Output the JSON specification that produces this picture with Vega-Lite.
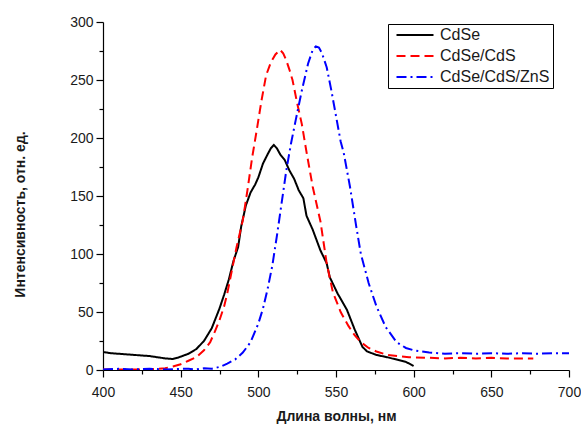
{
  "$schema": "https://vega.github.io/schema/vega-lite/v6.json",
  "width": 466,
  "height": 348,
  "autosize": {"type": "none"},
  "padding": {"left": 103, "top": 22, "right": 12, "bottom": 54},
  "background": "white",
  "data": {"values": [
    {"s":"CdSe","wl":400,"I":15.5},{"s":"CdSe","wl":405,"I":14.5},{"s":"CdSe","wl":410,"I":14},{"s":"CdSe","wl":415,"I":13.5},{"s":"CdSe","wl":420,"I":13},{"s":"CdSe","wl":425,"I":12.5},{"s":"CdSe","wl":430,"I":12},{"s":"CdSe","wl":435,"I":11},{"s":"CdSe","wl":440,"I":10},{"s":"CdSe","wl":445,"I":9.5},{"s":"CdSe","wl":448,"I":10.5},{"s":"CdSe","wl":450,"I":11.5},{"s":"CdSe","wl":455,"I":14},{"s":"CdSe","wl":460,"I":18},{"s":"CdSe","wl":465,"I":25},{"s":"CdSe","wl":470,"I":36},{"s":"CdSe","wl":475,"I":53},{"s":"CdSe","wl":478,"I":65},{"s":"CdSe","wl":481,"I":78},{"s":"CdSe","wl":484,"I":94},{"s":"CdSe","wl":487,"I":106},{"s":"CdSe","wl":489,"I":124},{"s":"CdSe","wl":492,"I":142},{"s":"CdSe","wl":495,"I":153},{"s":"CdSe","wl":498,"I":160},{"s":"CdSe","wl":500,"I":166},{"s":"CdSe","wl":503,"I":178},{"s":"CdSe","wl":506,"I":186},{"s":"CdSe","wl":508,"I":191},{"s":"CdSe","wl":510,"I":194},{"s":"CdSe","wl":512,"I":191},{"s":"CdSe","wl":514,"I":186},{"s":"CdSe","wl":517,"I":181},{"s":"CdSe","wl":520,"I":172},{"s":"CdSe","wl":523,"I":165},{"s":"CdSe","wl":526,"I":155},{"s":"CdSe","wl":529,"I":148},{"s":"CdSe","wl":531,"I":133},{"s":"CdSe","wl":535,"I":121},{"s":"CdSe","wl":540,"I":103},{"s":"CdSe","wl":544,"I":92},{"s":"CdSe","wl":546,"I":80},{"s":"CdSe","wl":551,"I":66},{"s":"CdSe","wl":557,"I":52},{"s":"CdSe","wl":562,"I":35},{"s":"CdSe","wl":567,"I":20},{"s":"CdSe","wl":570,"I":16},{"s":"CdSe","wl":576,"I":13},{"s":"CdSe","wl":583,"I":11},{"s":"CdSe","wl":589,"I":9},{"s":"CdSe","wl":595,"I":7},{"s":"CdSe","wl":600,"I":3.5},
    {"s":"CdSe/CdS","wl":400,"I":0.5},{"s":"CdSe/CdS","wl":410,"I":0.5},{"s":"CdSe/CdS","wl":420,"I":0.5},{"s":"CdSe/CdS","wl":430,"I":0.5},{"s":"CdSe/CdS","wl":440,"I":1.5},{"s":"CdSe/CdS","wl":445,"I":3},{"s":"CdSe/CdS","wl":450,"I":5},{"s":"CdSe/CdS","wl":455,"I":8},{"s":"CdSe/CdS","wl":460,"I":11},{"s":"CdSe/CdS","wl":465,"I":17},{"s":"CdSe/CdS","wl":469,"I":24},{"s":"CdSe/CdS","wl":472,"I":33},{"s":"CdSe/CdS","wl":475,"I":43},{"s":"CdSe/CdS","wl":478,"I":55},{"s":"CdSe/CdS","wl":480,"I":66},{"s":"CdSe/CdS","wl":483,"I":86},{"s":"CdSe/CdS","wl":486,"I":106},{"s":"CdSe/CdS","wl":490,"I":129},{"s":"CdSe/CdS","wl":493,"I":155},{"s":"CdSe/CdS","wl":496,"I":183},{"s":"CdSe/CdS","wl":499,"I":207},{"s":"CdSe/CdS","wl":502,"I":232},{"s":"CdSe/CdS","wl":505,"I":254},{"s":"CdSe/CdS","wl":508,"I":265},{"s":"CdSe/CdS","wl":511,"I":272},{"s":"CdSe/CdS","wl":514,"I":276},{"s":"CdSe/CdS","wl":516,"I":273},{"s":"CdSe/CdS","wl":518,"I":267},{"s":"CdSe/CdS","wl":520,"I":259},{"s":"CdSe/CdS","wl":522,"I":250},{"s":"CdSe/CdS","wl":525,"I":230},{"s":"CdSe/CdS","wl":528,"I":212},{"s":"CdSe/CdS","wl":531,"I":188},{"s":"CdSe/CdS","wl":535,"I":158},{"s":"CdSe/CdS","wl":540,"I":128},{"s":"CdSe/CdS","wl":544,"I":92},{"s":"CdSe/CdS","wl":548,"I":67},{"s":"CdSe/CdS","wl":553,"I":50},{"s":"CdSe/CdS","wl":558,"I":38},{"s":"CdSe/CdS","wl":562,"I":30},{"s":"CdSe/CdS","wl":566,"I":24},{"s":"CdSe/CdS","wl":571,"I":19},{"s":"CdSe/CdS","wl":576,"I":16},{"s":"CdSe/CdS","wl":583,"I":13},{"s":"CdSe/CdS","wl":590,"I":12},{"s":"CdSe/CdS","wl":597,"I":11},{"s":"CdSe/CdS","wl":610,"I":10.5},{"s":"CdSe/CdS","wl":620,"I":10},{"s":"CdSe/CdS","wl":630,"I":10.5},{"s":"CdSe/CdS","wl":640,"I":10},{"s":"CdSe/CdS","wl":650,"I":10.5},{"s":"CdSe/CdS","wl":660,"I":10},{"s":"CdSe/CdS","wl":670,"I":10},{"s":"CdSe/CdS","wl":677,"I":10},
    {"s":"CdSe/CdS/ZnS","wl":400,"I":0.5},{"s":"CdSe/CdS/ZnS","wl":410,"I":1},{"s":"CdSe/CdS/ZnS","wl":420,"I":0.5},{"s":"CdSe/CdS/ZnS","wl":430,"I":1},{"s":"CdSe/CdS/ZnS","wl":440,"I":0.5},{"s":"CdSe/CdS/ZnS","wl":450,"I":1},{"s":"CdSe/CdS/ZnS","wl":455,"I":1},{"s":"CdSe/CdS/ZnS","wl":460,"I":0.5},{"s":"CdSe/CdS/ZnS","wl":465,"I":1.5},{"s":"CdSe/CdS/ZnS","wl":470,"I":1},{"s":"CdSe/CdS/ZnS","wl":473,"I":2},{"s":"CdSe/CdS/ZnS","wl":476,"I":3},{"s":"CdSe/CdS/ZnS","wl":480,"I":5.5},{"s":"CdSe/CdS/ZnS","wl":485,"I":9},{"s":"CdSe/CdS/ZnS","wl":490,"I":15},{"s":"CdSe/CdS/ZnS","wl":495,"I":24},{"s":"CdSe/CdS/ZnS","wl":500,"I":40},{"s":"CdSe/CdS/ZnS","wl":503,"I":53},{"s":"CdSe/CdS/ZnS","wl":506,"I":70},{"s":"CdSe/CdS/ZnS","wl":509,"I":90},{"s":"CdSe/CdS/ZnS","wl":512,"I":116},{"s":"CdSe/CdS/ZnS","wl":515,"I":144},{"s":"CdSe/CdS/ZnS","wl":518,"I":172},{"s":"CdSe/CdS/ZnS","wl":521,"I":195},{"s":"CdSe/CdS/ZnS","wl":524,"I":215},{"s":"CdSe/CdS/ZnS","wl":528,"I":241},{"s":"CdSe/CdS/ZnS","wl":532,"I":264},{"s":"CdSe/CdS/ZnS","wl":535,"I":276},{"s":"CdSe/CdS/ZnS","wl":537,"I":279},{"s":"CdSe/CdS/ZnS","wl":539,"I":278},{"s":"CdSe/CdS/ZnS","wl":541,"I":273},{"s":"CdSe/CdS/ZnS","wl":544,"I":261},{"s":"CdSe/CdS/ZnS","wl":547,"I":241},{"s":"CdSe/CdS/ZnS","wl":550,"I":219},{"s":"CdSe/CdS/ZnS","wl":553,"I":197},{"s":"CdSe/CdS/ZnS","wl":555,"I":187},{"s":"CdSe/CdS/ZnS","wl":559,"I":158},{"s":"CdSe/CdS/ZnS","wl":563,"I":124},{"s":"CdSe/CdS/ZnS","wl":566,"I":100},{"s":"CdSe/CdS/ZnS","wl":571,"I":75},{"s":"CdSe/CdS/ZnS","wl":576,"I":55},{"s":"CdSe/CdS/ZnS","wl":582,"I":37},{"s":"CdSe/CdS/ZnS","wl":589,"I":24},{"s":"CdSe/CdS/ZnS","wl":595,"I":19},{"s":"CdSe/CdS/ZnS","wl":600,"I":17},{"s":"CdSe/CdS/ZnS","wl":610,"I":15},{"s":"CdSe/CdS/ZnS","wl":620,"I":14},{"s":"CdSe/CdS/ZnS","wl":630,"I":14.5},{"s":"CdSe/CdS/ZnS","wl":640,"I":14},{"s":"CdSe/CdS/ZnS","wl":650,"I":14.5},{"s":"CdSe/CdS/ZnS","wl":660,"I":14},{"s":"CdSe/CdS/ZnS","wl":670,"I":14.5},{"s":"CdSe/CdS/ZnS","wl":680,"I":14},{"s":"CdSe/CdS/ZnS","wl":690,"I":14.5},{"s":"CdSe/CdS/ZnS","wl":700,"I":14.5}
  ]},
  "mark": {"type": "line", "strokeWidth": 2, "clip": true},
  "encoding": {
    "x": {
      "field": "wl", "type": "quantitative",
      "scale": {"domain": [400, 700], "nice": false, "zero": false},
      "axis": {
        "title": "Длина волны, нм",
        "values": [400,425,450,475,500,525,550,575,600,625,650,675,700],
        "labelExpr": "datum.value % 50 === 0 ? datum.label : ''",
        "tickSize": {"condition": {"test": "datum.value % 50 === 0", "value": 7}, "value": 4},
        "labelFlush": false,
        "labelPadding": 8,
        "titlePadding": 10
      }
    },
    "y": {
      "field": "I", "type": "quantitative",
      "scale": {"domain": [0, 300], "nice": false},
      "axis": {
        "title": "Интенсивность, отн. ед.",
        "values": [0,25,50,75,100,125,150,175,200,225,250,275,300],
        "labelExpr": "datum.value % 50 === 0 ? datum.label : ''",
        "tickSize": {"condition": {"test": "datum.value % 50 === 0", "value": 7}, "value": 4},
        "labelPadding": 3,
        "titlePadding": 42,
        "titleY": 192
      }
    },
    "color": {
      "field": "s", "type": "nominal",
      "scale": {"domain": ["CdSe", "CdSe/CdS", "CdSe/CdS/ZnS"], "range": ["#000000", "#ff0000", "#0000ff"]},
      "legend": {"title": null}
    },
    "strokeDash": {
      "field": "s", "type": "nominal",
      "scale": {"domain": ["CdSe", "CdSe/CdS", "CdSe/CdS/ZnS"], "range": [[1, 0], [9, 5], [10, 4, 2, 4]]},
      "legend": {"title": null}
    }
  },
  "config": {
    "view": {"stroke": null},
    "font": "Liberation Sans",
    "axis": {
      "grid": false,
      "domainColor": "#000000",
      "domainWidth": 1.2,
      "tickColor": "#000000",
      "tickWidth": 1.2,
      "labelColor": "#1a1a1a",
      "labelFont": "Liberation Sans",
      "labelFontSize": 14,
      "labelOverlap": false,
      "titleFont": "Liberation Sans",
      "titleFontSize": 14,
      "titleFontWeight": "bold",
      "titleColor": "#1a1a1a"
    },
    "legend": {
      "orient": "none",
      "legendX": 285,
      "legendY": 2,
      "strokeColor": "#000000",
      "fillColor": "#ffffff",
      "padding": 3,
      "rowPadding": 5,
      "symbolOffset": 16,
      "symbolType": "M-3.7,0H3.7",
      "symbolSize": 100,
      "symbolStrokeWidth": 2,
      "symbolFillColor": "transparent",
      "labelFont": "Liberation Sans",
      "labelFontSize": 16,
      "labelColor": "#1a1a1a",
      "labelOffset": 17,
      "labelLimit": 300
    }
  }
}
